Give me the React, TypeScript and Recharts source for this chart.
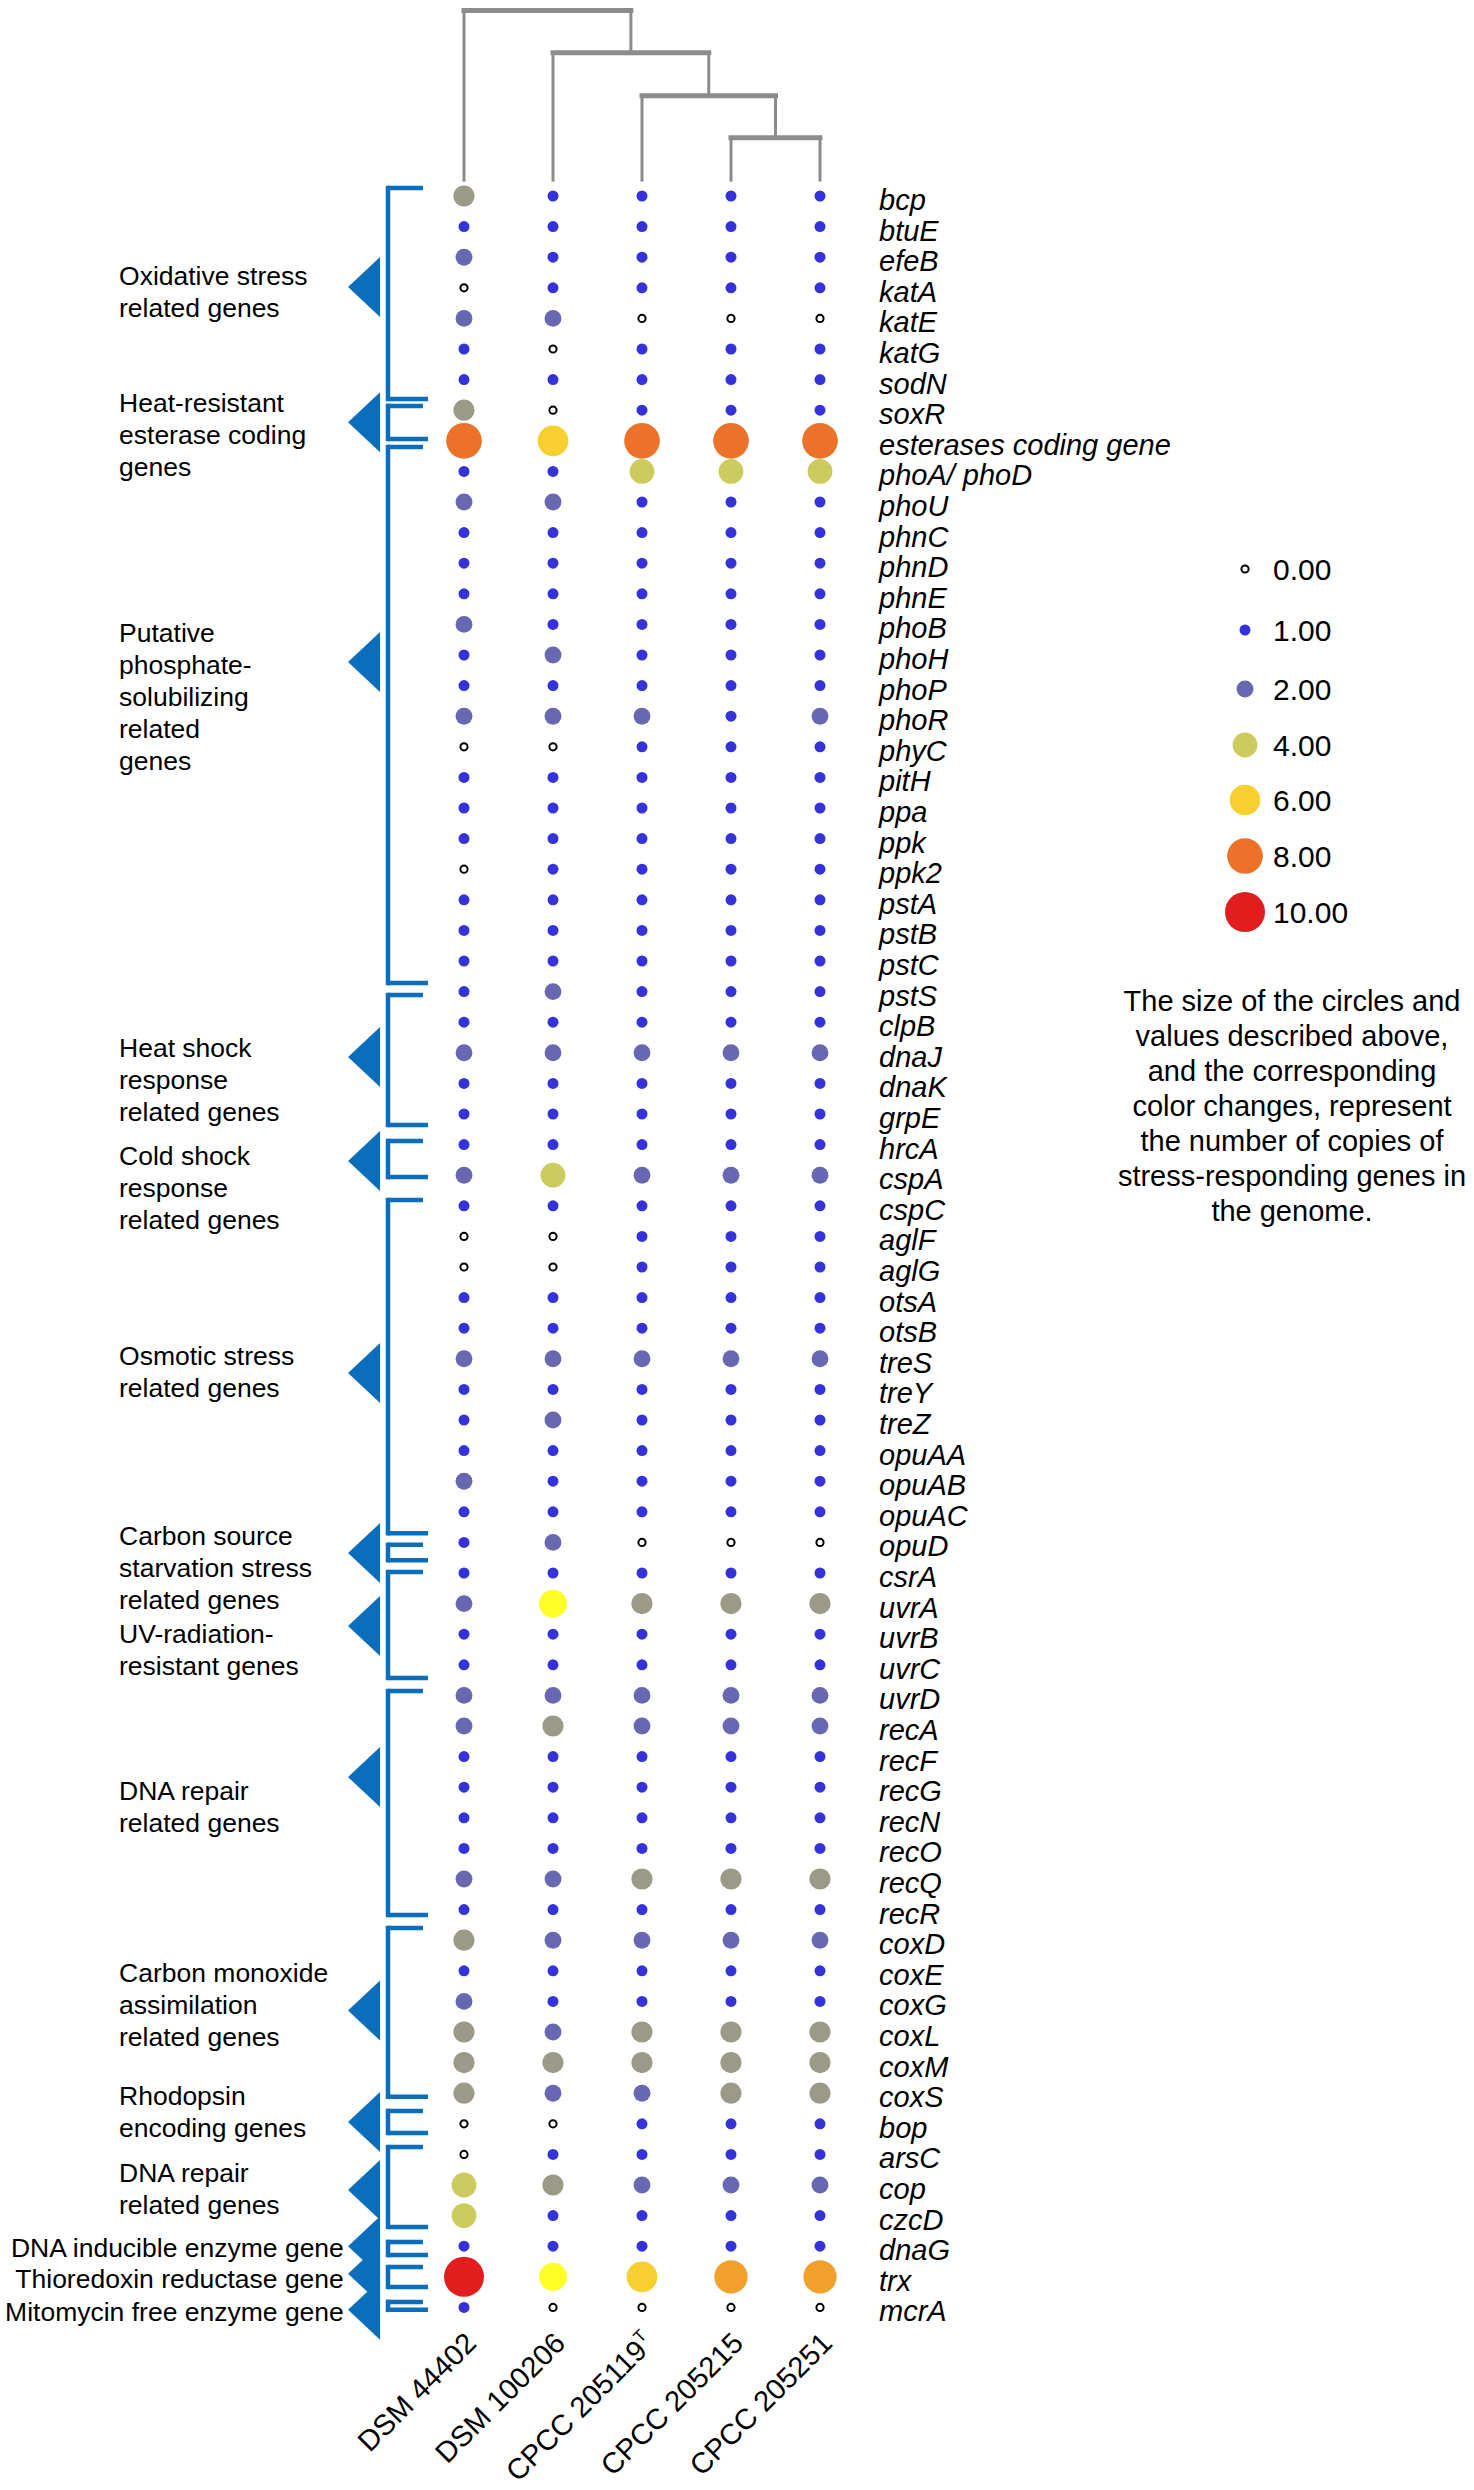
import React from 'react'
import { ScatterChart, Scatter, XAxis, YAxis, ZAxis, ReferenceLine, ReferenceDot } from 'recharts'

const W = 1474
const H = 2490
const FONT = '"Liberation Sans", Arial, Helvetica, sans-serif'
const BLUE = '#0A6EBD'
const TREE_GRAY = '#8C8C8C'

// strains (columns) and genes (rows)
const STRAINS = ['DSM 44402', 'DSM 100206', 'CPCC 205119', 'CPCC 205215', 'CPCC 205251']
const STRAIN_SUP = ['', '', 'T', '', '']

const GENES = [
    'bcp', 'btuE', 'efeB', 'katA', 'katE', 'katG', 'sodN', 'soxR', 'esterases coding gene', 'phoA/ phoD',
    'phoU', 'phnC', 'phnD', 'phnE', 'phoB', 'phoH', 'phoP', 'phoR', 'phyC', 'pitH',
    'ppa', 'ppk', 'ppk2', 'pstA', 'pstB', 'pstC', 'pstS', 'clpB', 'dnaJ', 'dnaK',
    'grpE', 'hrcA', 'cspA', 'cspC', 'aglF', 'aglG', 'otsA', 'otsB', 'treS', 'treY',
    'treZ', 'opuAA', 'opuAB', 'opuAC', 'opuD', 'csrA', 'uvrA', 'uvrB', 'uvrC', 'uvrD',
    'recA', 'recF', 'recG', 'recN', 'recO', 'recQ', 'recR', 'coxD', 'coxE', 'coxG',
    'coxL', 'coxM', 'coxS', 'bop', 'arsC', 'cop', 'czcD', 'dnaG', 'trx', 'mcrA'
]

// gene copy numbers per strain, same order as GENES
const DSM_44402 = [
    3, 1, 2, 0, 2, 1, 1, 3, 8, 1,
    2, 1, 1, 1, 2, 1, 1, 2, 0, 1,
    1, 1, 0, 1, 1, 1, 1, 1, 2, 1,
    1, 1, 2, 1, 0, 0, 1, 1, 2, 1,
    1, 1, 2, 1, 1, 1, 2, 1, 1, 2,
    2, 1, 1, 1, 1, 2, 1, 3, 1, 2,
    3, 3, 3, 0, 0, 4, 4, 1, 10, 1
]
const DSM_100206 = [
    1, 1, 1, 1, 2, 0, 1, 0, 6, 1,
    2, 1, 1, 1, 1, 2, 1, 2, 0, 1,
    1, 1, 1, 1, 1, 1, 2, 1, 2, 1,
    1, 1, 4, 1, 0, 0, 1, 1, 2, 1,
    2, 1, 1, 1, 2, 1, 5, 1, 1, 2,
    3, 1, 1, 1, 1, 2, 1, 2, 1, 1,
    2, 3, 2, 0, 1, 3, 1, 1, 5, 0
]
const CPCC_205119 = [
    1, 1, 1, 1, 0, 1, 1, 1, 8, 4,
    1, 1, 1, 1, 1, 1, 1, 2, 1, 1,
    1, 1, 1, 1, 1, 1, 1, 1, 2, 1,
    1, 1, 2, 1, 1, 1, 1, 1, 2, 1,
    1, 1, 1, 1, 0, 1, 3, 1, 1, 2,
    2, 1, 1, 1, 1, 3, 1, 2, 1, 1,
    3, 3, 2, 1, 1, 2, 1, 1, 6, 0
]
const CPCC_205215 = [
    1, 1, 1, 1, 0, 1, 1, 1, 8, 4,
    1, 1, 1, 1, 1, 1, 1, 1, 1, 1,
    1, 1, 1, 1, 1, 1, 1, 1, 2, 1,
    1, 1, 2, 1, 1, 1, 1, 1, 2, 1,
    1, 1, 1, 1, 0, 1, 3, 1, 1, 2,
    2, 1, 1, 1, 1, 3, 1, 2, 1, 1,
    3, 3, 3, 1, 1, 2, 1, 1, 7, 0
]
const CPCC_205251 = [
    1, 1, 1, 1, 0, 1, 1, 1, 8, 4,
    1, 1, 1, 1, 1, 1, 1, 2, 1, 1,
    1, 1, 1, 1, 1, 1, 1, 1, 2, 1,
    1, 1, 2, 1, 1, 1, 1, 1, 2, 1,
    1, 1, 1, 1, 0, 1, 3, 1, 1, 2,
    2, 1, 1, 1, 1, 3, 1, 2, 1, 1,
    3, 3, 3, 1, 1, 2, 1, 1, 7, 0
]
const COPIES = [DSM_44402, DSM_100206, CPCC_205119, CPCC_205215, CPCC_205251]

const LEGEND_VALUES = [0, 1, 2, 4, 6, 8, 10]
const NOTE_LINES = [
    'The size of the circles and',
    'values described above,',
    'and the corresponding',
    'color changes, represent',
    'the number of copies of',
    'stress-responding genes in',
    'the genome.'
]

// dendrogram: [childA, childB, height in row units]; ids >= 5 are earlier merges
const TREE_MERGES = [
    [3, 4, -1.9],
    [2, 5, -3.28],
    [1, 6, -4.68],
    [0, 7, -6.06]
]
const LEAF_TOP = -0.47

// gene groups on the left: label lines, label row, bracket top/bottom rows, arrow row
const GROUPS = [
    { lines: ['Oxidative stress', 'related genes'], label: 2.61, top: -0.26, bottom: 6.63, tip: 2.97 },
    { lines: ['Heat-resistant', 'esterase coding', 'genes'], label: 6.76, top: 6.86, bottom: 7.94, tip: 7.39 },
    { lines: ['Putative', 'phosphate-', 'solubilizing', 'related', 'genes'], label: 14.25, top: 8.2, bottom: 25.72, tip: 15.23 },
    { lines: ['Heat shock', 'response', 'related genes'], label: 27.84, top: 26.11, bottom: 30.36, tip: 28.14 },
    { lines: ['Cold shock', 'response', 'related genes'], label: 31.37, top: 30.88, bottom: 32.06, tip: 31.54 },
    { lines: ['Osmotic stress', 'related genes'], label: 37.88, top: 32.81, bottom: 43.7, tip: 38.46 },
    { lines: ['Carbon source', 'starvation stress', 'related genes'], label: 43.79, top: 44.08, bottom: 44.58, tip: 44.35 },
    { lines: ['UV-radiation-', 'resistant genes'], label: 46.99, top: 44.97, bottom: 48.43, tip: 46.73 },
    { lines: ['DNA repair', 'related genes'], label: 52.12, top: 48.86, bottom: 56.18, tip: 51.67 },
    { lines: ['Carbon monoxide', 'assimilation', 'related genes'], label: 58.04, top: 56.6, bottom: 62.12, tip: 59.3 },
    { lines: ['Rhodopsin', 'encoding genes'], label: 62.09, top: 62.58, bottom: 63.3, tip: 62.94 },
    { lines: ['DNA repair', 'related genes'], label: 64.58, top: 63.76, bottom: 66.37, tip: 65.16 },
    { lines: ['DNA inducible enzyme gene'], label: 67.03, top: 66.86, bottom: 67.29, tip: 67.0, right: true },
    { lines: ['Thioredoxin reductase gene'], label: 68.07, top: 67.68, bottom: 68.33, tip: 67.9, right: true },
    { lines: ['Mitomycin free enzyme gene'], label: 69.12, top: 68.82, bottom: 69.08, tip: 69.08, right: true }
]

const COLOR_BY_COPIES: Record<number, string> = {
    1: '#3333D9',
    2: '#6767B2',
    3: '#9A9A86',
    4: '#CCCC5E',
    5: '#FFFF26',
    6: '#F7D030',
    7: '#F2A02C',
    8: '#EC7229',
    9: '#E7471F',
    10: '#E21D1D'
}

// layout
const COL0 = 464
const COL_STEP = 89
const ROW0 = 196
const ROW_STEP = 30.6
const X_MIN = -5.2
const X_MAX = 4.5
const Y_MIN = -6.2
const Y_MAX = 69.9
const Y_AXIS_W = 200
const X_AXIS_H = 100
const plotLeft = COL0 + X_MIN * COL_STEP
const plotRight = COL0 + X_MAX * COL_STEP
const plotTop = ROW0 + Y_MIN * ROW_STEP
const plotBottom = ROW0 + Y_MAX * ROW_STEP
const MARGIN = { left: plotLeft, right: W - plotRight - Y_AXIS_W, top: plotTop, bottom: H - plotBottom - X_AXIS_H }

// bubble area grows linearly with copy number (same mapping used by the legend)
const Z_DOMAIN = [0, 10]
const Z_RANGE = [-34, 1257]
const radiusOf = (v: number) => {
    const area = Z_RANGE[0] + (v - Z_DOMAIN[0]) / (Z_DOMAIN[1] - Z_DOMAIN[0]) * (Z_RANGE[1] - Z_RANGE[0])
    return Math.sqrt(Math.max(area, 0) / Math.PI)
}

const BRACKET_X = -0.854
const TICK_SHORT = -0.461
const TICK_LONG = -0.404
const TIP_X = -1.303
const LABEL_X = -3.876
const LABEL_RIGHT_X = -1.35

const points = COPIES.flatMap((col, j) => col.map((z, i) => ({ x: j, y: i, z })))

function Bubble(props: any) {
    const { cx, cy, payload } = props
    const v = payload.z
    if (v === 0) return <circle cx={cx} cy={cy} r={3.6} fill="#fff" stroke="#000" strokeWidth={2} />
    const r = props.size != null ? Math.sqrt(Math.max(props.size, 0) / Math.PI) : props.width / 2
    return <circle cx={cx} cy={cy} r={r} fill={COLOR_BY_COPIES[v]} />
}

function GeneTick(props: any) {
    const { x, y, payload } = props
    return (
        <text x={x} y={y + 14} fontSize={29} fontStyle="italic" fontFamily={FONT} fill="#000">
            {GENES[payload.value]}
        </text>
    )
}

function StrainTick(props: any) {
    const { x, y, payload } = props
    const i = payload.value
    const ax = x + 14
    const ay = y + 10
    return (
        <text x={ax} y={ay} transform={`rotate(-45 ${ax} ${ay})`} textAnchor="end" fontSize={29}
            fontFamily={FONT} fill="#000">
            {STRAINS[i]}
            {STRAIN_SUP[i] && <tspan dy={-12} fontSize={17}>{STRAIN_SUP[i]}</tspan>}
        </text>
    )
}

const arrow = (p: any) => (
    <polygon points={`${p.cx},${p.cy} ${p.cx + 32},${p.cy - 30} ${p.cx + 32},${p.cy + 30}`} fill={BLUE} />
)

const groupLabel = (lines: string[], right?: boolean) => (p: any) => (
    <text fontSize={26.5} fontFamily={FONT} fill="#000" textAnchor={right ? 'end' : 'start'}>
        {lines.map((ln, k) => (
            <tspan key={k} x={p.cx} y={p.cy + k * 32 + 9.5}>{ln}</tspan>
        ))}
    </text>
)

function treeNodes() {
    const xs: number[] = [0, 1, 2, 3, 4]
    const tops: number[] = [LEAF_TOP, LEAF_TOP, LEAF_TOP, LEAF_TOP, LEAF_TOP]
    const segs: { pts: { x: number, y: number }[], w: number }[] = []
    TREE_MERGES.forEach(([a, b, h]) => {
        segs.push({ pts: [{ x: xs[a], y: tops[a] }, { x: xs[a], y: h }], w: 3 })
        segs.push({ pts: [{ x: xs[b], y: tops[b] }, { x: xs[b], y: h }], w: 3 })
        segs.push({ pts: [{ x: xs[a], y: h }, { x: xs[b], y: h }], w: 5 })
        xs.push((xs[a] + xs[b]) / 2)
        tops.push(h)
    })
    return segs
}

export default function App() {
    const treeSegs = treeNodes()
    return (
        <div style={{ position: 'absolute', left: 0, top: 0, width: W, height: H, background: '#fff' }}>
            <ScatterChart width={W} height={H} margin={MARGIN}>
                <XAxis type="number" dataKey="x" domain={[X_MIN, X_MAX]} allowDataOverflow ticks={[0, 1, 2, 3, 4]}
                    interval={0} height={X_AXIS_H} axisLine={false} tickLine={false} tickSize={0} tickMargin={0}
                    tick={(p: any) => <StrainTick {...p} />} />
                <YAxis type="number" dataKey="y" orientation="right" domain={[Y_MIN, Y_MAX]} reversed allowDataOverflow
                    ticks={GENES.map((_, i) => i)} interval={0} width={Y_AXIS_W} axisLine={false} tickLine={false}
                    tickSize={0} tickMargin={COL0 + 415 - plotRight} tick={(p: any) => <GeneTick {...p} />} />
                <ZAxis type="number" dataKey="z" domain={Z_DOMAIN} range={Z_RANGE} />

                {treeSegs.map((s, k) => (
                    <ReferenceLine key={'t' + k} segment={s.pts} stroke={TREE_GRAY} strokeWidth={s.w}
                        strokeLinecap={s.w > 3 ? 'square' : 'butt'} ifOverflow="visible" />
                ))}

                {GROUPS.map((g, k) => (
                    <ReferenceLine key={'bv' + k} segment={[{ x: BRACKET_X, y: g.top }, { x: BRACKET_X, y: g.bottom }]}
                        stroke={BLUE} strokeWidth={4.5} strokeLinecap="square" ifOverflow="visible" />
                ))}
                {GROUPS.map((g, k) => (
                    <ReferenceLine key={'bt' + k} segment={[{ x: BRACKET_X, y: g.top }, { x: TICK_SHORT, y: g.top }]}
                        stroke={BLUE} strokeWidth={4.5} ifOverflow="visible" />
                ))}
                {GROUPS.map((g, k) => (
                    <ReferenceLine key={'bb' + k} segment={[{ x: BRACKET_X, y: g.bottom }, { x: TICK_LONG, y: g.bottom }]}
                        stroke={BLUE} strokeWidth={4.5} ifOverflow="visible" />
                ))}
                {GROUPS.map((g, k) => (
                    <ReferenceDot key={'a' + k} x={TIP_X} y={g.tip} ifOverflow="visible" shape={arrow} />
                ))}
                {GROUPS.map((g, k) => (
                    <ReferenceDot key={'l' + k} x={g.right ? LABEL_RIGHT_X : LABEL_X} y={g.label} ifOverflow="visible"
                        shape={groupLabel(g.lines, g.right)} />
                ))}

                <Scatter data={points} shape={(p: any) => <Bubble {...p} />} isAnimationActive={false} />
            </ScatterChart>

            <svg width={W} height={H} style={{ position: 'absolute', left: 0, top: 0, pointerEvents: 'none' }}>
                {LEGEND_VALUES.map((v, k) => {
                    const cy = [569, 630, 689, 745, 800, 856, 912][k]
                    return (
                        <g key={v}>
                            {v === 0
                                ? <circle cx={1245} cy={cy} r={3.6} fill="#fff" stroke="#000" strokeWidth={2} />
                                : <circle cx={1245} cy={cy} r={radiusOf(v)} fill={COLOR_BY_COPIES[v]} />}
                            <text x={1273} y={cy + 11} fontSize={30} fontFamily={FONT} fill="#000">{v.toFixed(2)}</text>
                        </g>
                    )
                })}
                <text fontSize={29} fontFamily={FONT} fill="#000" textAnchor="middle">
                    {NOTE_LINES.map((ln, k) => (
                        <tspan key={k} x={1292} y={1001 + k * 35 + 10}>{ln}</tspan>
                    ))}
                </text>
            </svg>
        </div>
    )
}
